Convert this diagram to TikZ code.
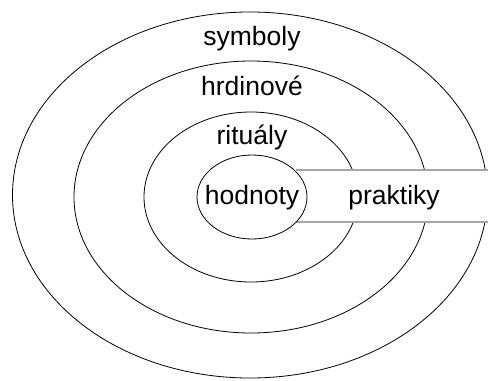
\documentclass[tikz,border=0pt]{standalone}
\usepackage{fontspec}
\setmainfont{Liberation Sans}
\begin{document}
\begin{tikzpicture}[x=1pt,y=-1pt,
  ring/.style={draw=black,line width=0.8pt},
  bandline/.style={draw=black!35,line width=1.8pt},
  lbl/.style={font=\fontsize{26.5}{30}\selectfont,anchor=base,inner sep=0pt}]
\useasboundingbox (0,0) rectangle (489,380);
\draw[ring] (250,195) ellipse [x radius=237.5,y radius=183];
\draw[ring] (251,197) ellipse [x radius=177,y radius=136];
\draw[ring] (251,197) ellipse [x radius=107,y radius=85];
\fill[white] (296,170) rectangle (489,222);
\coordinate (bt0) at (296,170);
\coordinate (bt1) at (487.5,170);
\coordinate (bb0) at (296,222);
\coordinate (bb1) at (487.5,222);
\draw[bandline] (bt0) -- (bt1);
\draw[bandline] (bb0) -- (bb1);
\draw[ring,fill=white] (252,197) ellipse [x radius=55,y radius=42];
\node[lbl] (sym) at (252,45) {symboly};
\node[lbl] (hrd) at (252,95) {hrdinové};
\node[lbl] (rit) at (252,144) {rituály};
\node[lbl] (hod) at (252,204) {hodnoty};
\node[lbl] (pra) at (394,204) {praktiky};
\end{tikzpicture}
\end{document}
